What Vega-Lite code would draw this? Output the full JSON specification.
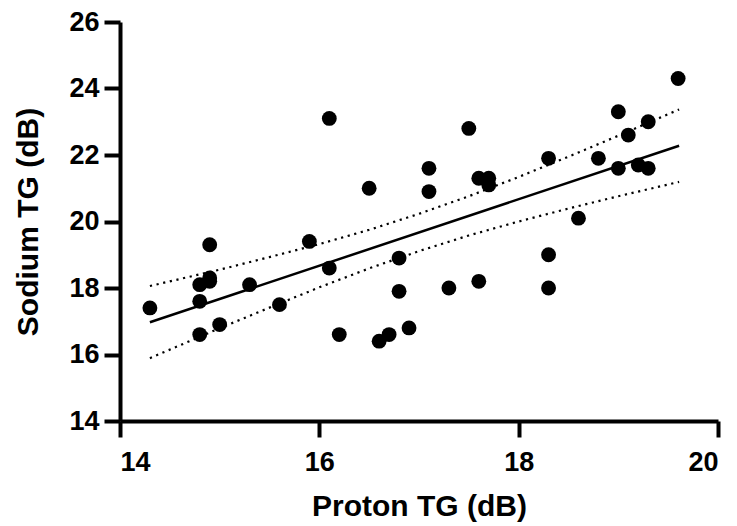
{
  "$schema": "https://vega.github.io/schema/vega-lite/v6.json",
  "width": 598,
  "height": 399,
  "autosize": {"type": "none"},
  "padding": {"left": 120, "top": 22, "right": 19, "bottom": 105},
  "background": "white",
  "config": {
    "view": {"stroke": null},
    "font": "Liberation Sans",
    "axis": {
      "grid": false,
      "domainColor": "black",
      "domainWidth": 4,
      "tickColor": "black",
      "tickWidth": 4,
      "tickSize": 16,
      "labelFont": "Liberation Sans",
      "labelFontSize": 27,
      "labelFontWeight": "bold",
      "labelColor": "black",
      "titleFont": "Liberation Sans",
      "titleFontSize": 30,
      "titleFontWeight": "bold",
      "titleColor": "black"
    }
  },
  "datasets": {
    "points": [
      {"proton": 14.3, "sodium": 17.4},
      {"proton": 14.8, "sodium": 17.6},
      {"proton": 14.8, "sodium": 18.1},
      {"proton": 14.9, "sodium": 18.2},
      {"proton": 14.9, "sodium": 18.3},
      {"proton": 14.9, "sodium": 19.3},
      {"proton": 14.8, "sodium": 16.6},
      {"proton": 15.0, "sodium": 16.9},
      {"proton": 15.3, "sodium": 18.1},
      {"proton": 15.6, "sodium": 17.5},
      {"proton": 15.9, "sodium": 19.4},
      {"proton": 16.1, "sodium": 23.1},
      {"proton": 16.1, "sodium": 18.6},
      {"proton": 16.2, "sodium": 16.6},
      {"proton": 16.5, "sodium": 21.0},
      {"proton": 16.6, "sodium": 16.4},
      {"proton": 16.7, "sodium": 16.6},
      {"proton": 16.8, "sodium": 18.9},
      {"proton": 16.8, "sodium": 17.9},
      {"proton": 16.9, "sodium": 16.8},
      {"proton": 17.1, "sodium": 21.6},
      {"proton": 17.1, "sodium": 20.9},
      {"proton": 17.3, "sodium": 18.0},
      {"proton": 17.5, "sodium": 22.8},
      {"proton": 17.6, "sodium": 21.3},
      {"proton": 17.6, "sodium": 18.2},
      {"proton": 17.7, "sodium": 21.3},
      {"proton": 17.7, "sodium": 21.1},
      {"proton": 18.3, "sodium": 21.9},
      {"proton": 18.3, "sodium": 19.0},
      {"proton": 18.3, "sodium": 18.0},
      {"proton": 18.6, "sodium": 20.1},
      {"proton": 18.8, "sodium": 21.9},
      {"proton": 19.0, "sodium": 23.3},
      {"proton": 19.0, "sodium": 21.6},
      {"proton": 19.1, "sodium": 22.6},
      {"proton": 19.2, "sodium": 21.7},
      {"proton": 19.3, "sodium": 23.0},
      {"proton": 19.3, "sodium": 21.6},
      {"proton": 19.6, "sodium": 24.3}
    ],
    "fit": [
      {"proton": 14.3, "sodium": 16.97},
      {"proton": 19.61, "sodium": 22.28}
    ],
    "band": [
      {"proton": 14.3, "sodium": 18.06, "bound": "upper"},
      {"proton": 15.0, "sodium": 18.55, "bound": "upper"},
      {"proton": 15.5, "sodium": 18.93, "bound": "upper"},
      {"proton": 16.0, "sodium": 19.32, "bound": "upper"},
      {"proton": 16.5, "sodium": 19.75, "bound": "upper"},
      {"proton": 17.0, "sodium": 20.23, "bound": "upper"},
      {"proton": 17.5, "sodium": 20.76, "bound": "upper"},
      {"proton": 18.0, "sodium": 21.34, "bound": "upper"},
      {"proton": 18.5, "sodium": 21.95, "bound": "upper"},
      {"proton": 19.0, "sodium": 22.58, "bound": "upper"},
      {"proton": 19.61, "sodium": 23.37, "bound": "upper"},
      {"proton": 14.3, "sodium": 15.89, "bound": "lower"},
      {"proton": 15.0, "sodium": 16.79, "bound": "lower"},
      {"proton": 15.5, "sodium": 17.41, "bound": "lower"},
      {"proton": 16.0, "sodium": 18.02, "bound": "lower"},
      {"proton": 16.5, "sodium": 18.59, "bound": "lower"},
      {"proton": 17.0, "sodium": 19.11, "bound": "lower"},
      {"proton": 17.5, "sodium": 19.58, "bound": "lower"},
      {"proton": 18.0, "sodium": 20.00, "bound": "lower"},
      {"proton": 18.5, "sodium": 20.39, "bound": "lower"},
      {"proton": 19.0, "sodium": 20.76, "bound": "lower"},
      {"proton": 19.61, "sodium": 21.19, "bound": "lower"}
    ]
  },
  "encoding": {
    "x": {
      "field": "proton",
      "type": "quantitative",
      "scale": {"domain": [14, 20], "nice": false, "zero": false},
      "axis": {"title": "Proton TG (dB)", "values": [14, 16, 18, 20], "labelPadding": 12, "titlePadding": 16}
    },
    "y": {
      "field": "sodium",
      "type": "quantitative",
      "scale": {"domain": [14, 26], "nice": false, "zero": false},
      "axis": {"title": "Sodium TG (dB)", "values": [14, 16, 18, 20, 22, 24, 26], "labelPadding": 5, "titlePadding": 25}
    }
  },
  "layer": [
    {
      "data": {"name": "band"},
      "mark": {"type": "line", "color": "black", "strokeWidth": 2.2, "strokeDash": [2.2, 4.6], "clip": false},
      "encoding": {"detail": {"field": "bound"}}
    },
    {
      "data": {"name": "fit"},
      "mark": {"type": "line", "color": "black", "strokeWidth": 2.5},
      "encoding": {}
    },
    {
      "data": {"name": "points"},
      "mark": {"type": "circle", "color": "black", "opacity": 1, "size": 220},
      "encoding": {}
    }
  ]
}
